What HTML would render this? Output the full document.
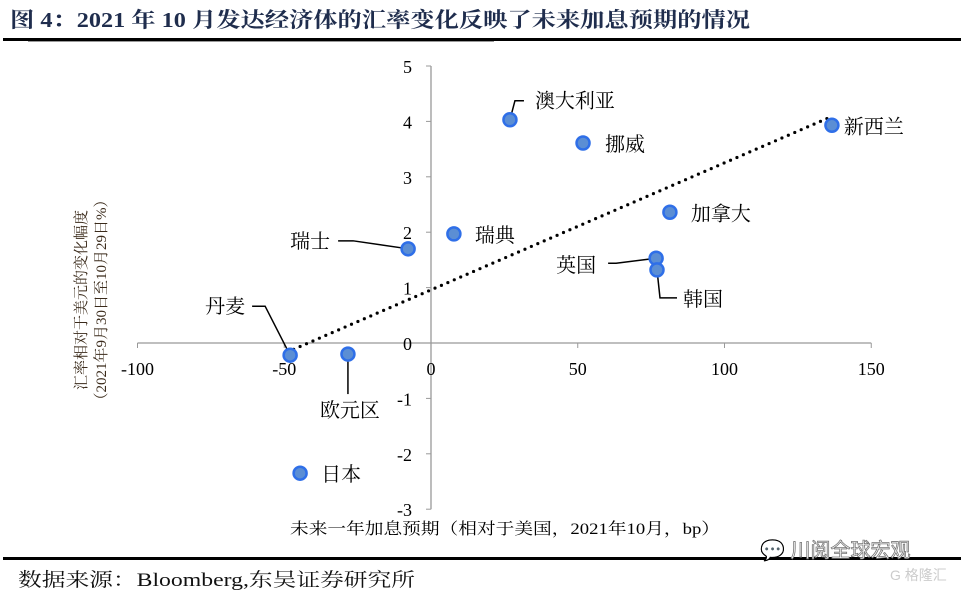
<!DOCTYPE html>
<html><head><meta charset="utf-8"><style>
html,body{margin:0;padding:0;background:#fff;}
svg{display:block;font-family:"Liberation Serif","Noto Serif CJK SC",serif;}
</style></head><body>
<svg id="chart" width="965" height="596" viewBox="0 0 965 596">
<text x="10" y="27" font-size="21" font-weight="bold" fill="#1f2d4d" textLength="740" lengthAdjust="spacingAndGlyphs">图 4：2021 年 10 月发达经济体的汇率变化反映了未来加息预期的情况</text>
<rect x="3" y="38" width="958" height="3" fill="#000"/>
<rect x="28" y="41" width="466" height="1" fill="#999"/>
<g id="axes"></g>
<g id="marks"></g>
<text x="290" y="534" font-size="16" textLength="430" lengthAdjust="spacingAndGlyphs">未来一年加息预期（相对于美国，2021年10月，bp）</text>
<text transform="translate(86,300) rotate(-90)" font-size="15" text-anchor="middle" fill="#3a2a1a"><tspan x="0" dy="0">汇率相对于美元的变化幅度</tspan><tspan x="0" dy="20">（2021年9月30日至10月29日%）</tspan></text>
<rect x="3" y="557" width="958" height="3" fill="#000"/>
<text x="760" y="557" font-size="20" fill="#fff" stroke="#777" stroke-width="0.8" font-family="Liberation Sans,Noto Sans CJK SC,sans-serif">💬 川阅全球宏观</text>
<text x="890" y="580" font-size="14" fill="#ccc" font-family="Liberation Sans,Noto Sans CJK SC,sans-serif">G 格隆汇</text>
<text x="18" y="586" font-size="19" fill="#111" textLength="397" lengthAdjust="spacingAndGlyphs">数据来源：Bloomberg,东吴证券研究所</text>
</svg>
<script>
const countries=["澳大利亚","挪威","新西兰","加拿大","瑞典","瑞士","英国","韩国","丹麦","欧元区","日本"];
const xValues=[26.9,51.8,136.6,81.4,7.8,-7.8,76.7,77,-48,-28.3,-44.6];
const yValues=[4.03,3.61,3.93,2.36,1.97,1.70,1.53,1.32,-0.22,-0.20,-2.35];
const xTicks=[-100,-50,0,50,100,150];
const yTicks=[5,4,3,2,1,0,-1,-2,-3];
const trendX=[-50,137];
const trendY=[-0.2,4.1];
const sx=v=>431+v*2.935;
const sy=v=>343-v*55.4;
const NS="http://www.w3.org/2000/svg";
function mk(t,a,p){const e=document.createElementNS(NS,t);for(const k in a)e.setAttribute(k,a[k]);p.appendChild(e);return e;}
const ax=document.getElementById('axes'),mg=document.getElementById('marks');
let l=mk('line',{x1:sx(-100),x2:sx(150),y1:sy(0),y2:sy(0),stroke:'#999','stroke-width':1.3},ax);


l=mk('line',{x1:sx(0),x2:sx(0),y1:sy(5),y2:sy(-3),stroke:'#999','stroke-width':1.3},ax);


xTicks.forEach(v=>{
  mk('line',{x1:sx(v),x2:sx(v),y1:sy(0),y2:sy(0)+5,stroke:'#999'},ax);
  const t=mk('text',{x:sx(v),y:sy(0)+32,'font-size':18,'text-anchor':'middle'},ax);t.textContent=v;
  
  
});
yTicks.forEach(v=>{
  mk('line',{x1:sx(0)-5,x2:sx(0),y1:sy(v),y2:sy(v),stroke:'#999'},ax);
  const t=mk('text',{x:sx(0)-19,y:sy(v)+7,'font-size':18,'text-anchor':'end'},ax);t.textContent=v;
  
  
});
const tl=mk('line',{x1:sx(trendX[0])+3,y1:sy(trendY[0])-2,x2:sx(trendX[1]),y2:sy(trendY[1]),stroke:'#000','stroke-width':3.2,'stroke-dasharray':'0 7','stroke-linecap':'round'},mg);


const lab=[[25,-12,'start',1],[22,8,'start',0],[12,8,'start',0],[21,8,'start',0],[21,8,'start',0],[-78,-1,'end',1],[-60,14,'end',1],[26,36,'start',1],[-45,-42,'end',1],[2,63,'middle',1],[21,8,'start',0]];
countries.forEach((c,i)=>{
  const x=sx(xValues[i]),y=sy(yValues[i]);
  const L=lab[i];
  if(L[3]){
    let pts;
    if(i==0)pts=[[x,y],[x+5,y-19],[x+14,y-19]];
    if(i==5)pts=[[x,y],[x-55,y-8],[x-70,y-8]];
    if(i==6)pts=[[x,y],[x-40,y+5],[x-48,y+5]];
    if(i==7)pts=[[x,y],[x+3,y+28],[x+20,y+28]];
    if(i==8)pts=[[x,y],[x-25,y-49],[x-38,y-49]];
    if(i==9)pts=[[x,y],[x,y+40]];
    const p=mk('polyline',{points:pts.map(q=>q.join(',')).join(' '),fill:'none',stroke:'#000','stroke-width':1.5},mg);
    
    
  }
  const d=mk('circle',{cx:x,cy:y,r:6.5,fill:'#5b8ed4',stroke:'#2f6fe8','stroke-width':2.5},mg);
  
  
  const t=mk('text',{x:x+L[0],y:y+L[1],'font-size':20,'text-anchor':L[2],'font-family':'Liberation Serif,Noto Serif CJK SC,serif'},mg);
  t.textContent=c;
  
  
});
</script>
</body></html>
